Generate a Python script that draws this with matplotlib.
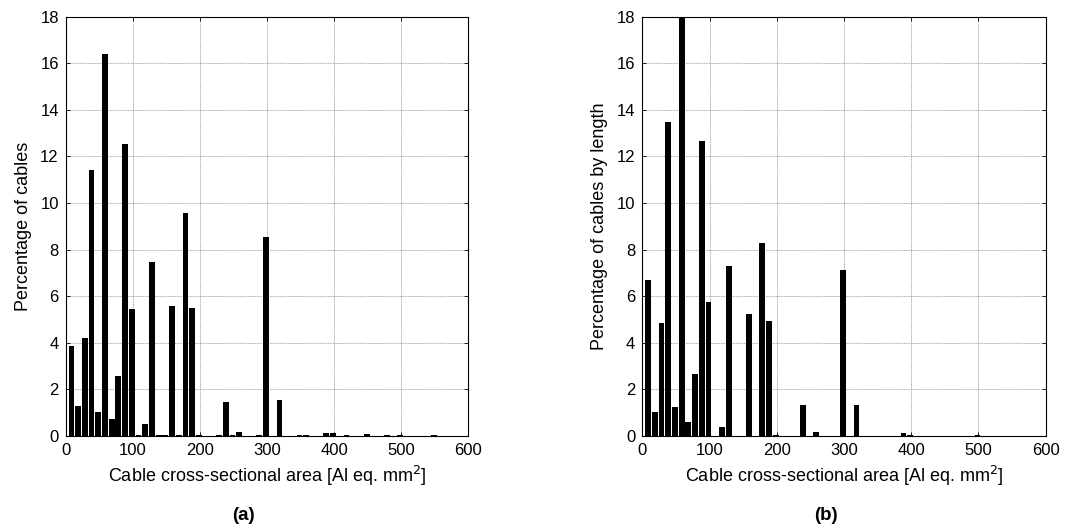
import matplotlib
matplotlib.use("Agg")
import matplotlib.pyplot as plt
import numpy as np

plt.rcParams.update({
    'font.family': ['Liberation Sans', 'DejaVu Sans'],
    'font.size': 12,
    'xtick.direction': 'in',
    'ytick.direction': 'in',
    'xtick.top': True,
    'ytick.right': True,
    'xtick.major.size': 3,
    'ytick.major.size': 3,
    'xtick.major.width': 0.6,
    'ytick.major.width': 0.6,
    'axes.linewidth': 0.8,
})

# histogram bins of 10 mm^2 (bin centres, Al eq. mm^2)
bin_centres = [c - 1.5 for c in range(10, 560, 10)]

# (a) percentage of cables per bin
pct_cables = [
    3.88, 1.27, 4.19, 11.42, 1.02, 16.39, 0.72, 2.58, 12.53, 5.44,
    0.04, 0.53, 7.48, 0.03, 0.03, 5.57, 0.03, 9.56, 5.51, 0.05,
    0.00, 0.00, 0.03, 1.46, 0.04, 0.16, 0.00, 0.00, 0.03, 8.56,
    0.00, 1.53, 0.00, 0.00, 0.04, 0.04, 0.00, 0.00, 0.14, 0.14,
    0.00, 0.03, 0.00, 0.00, 0.09, 0.00, 0.00, 0.03, 0.00, 0.03,
    0.00, 0.00, 0.00, 0.00, 0.03,
]

# (b) percentage of cables by length per bin
pct_length = [
    6.68, 1.02, 4.84, 13.46, 1.23, 18.30, 0.59, 2.65, 12.66, 5.75,
    0.02, 0.40, 7.31, 0.02, 0.02, 5.25, 0.02, 8.30, 4.94, 0.05,
    0.00, 0.00, 0.02, 1.33, 0.02, 0.16, 0.00, 0.00, 0.02, 7.12,
    0.01, 1.33, 0.00, 0.00, 0.02, 0.02, 0.00, 0.00, 0.14, 0.05,
    0.00, 0.02, 0.00, 0.00, 0.02, 0.00, 0.00, 0.02, 0.00, 0.05,
    0.00, 0.00, 0.00, 0.00, 0.02,
]

XLABEL = r'Cable cross-sectional area [Al eq. mm$^2$]'
W, H = 1071, 531

fig = plt.figure(figsize=(W / 100, H / 100), dpi=100)
ax_a = fig.add_axes([65.7 / W, (H - 436) / H, 402.6 / W, 419.3 / H])
ax_b = fig.add_axes([642.3 / W, (H - 436) / H, 403.4 / W, 419.3 / H])

panels = [
    (ax_a, pct_cables, 'Percentage of cables', '(a)', 243),
    (ax_b, pct_length, 'Percentage of cables by length', '(b)', 826),
]

for ax, vals, ylab, tag, tag_x in panels:
    ax.bar(bin_centres, vals, width=8.6, color='black', linewidth=0)
    ax.set_xlim(0, 600)
    ax.set_ylim(0, 18)
    ax.set_xticks(np.arange(0, 601, 100))
    ax.set_yticks(np.arange(0, 19, 2))
    ax.set_axisbelow(True)
    ax.grid(color='#8a8a8a', linestyle=(0, (1, 1)), linewidth=0.6)
    ax.tick_params(labelsize=12, pad=5)
    ax.set_xlabel(XLABEL, fontsize=13, labelpad=4)
    ax.set_ylabel(ylab, fontsize=13, labelpad=6)
    fig.text(tag_x / W, 1 - 515 / H, tag, fontsize=13.5, fontweight='bold',
             ha='center', va='center')

fig.savefig('out.png', dpi=100)
